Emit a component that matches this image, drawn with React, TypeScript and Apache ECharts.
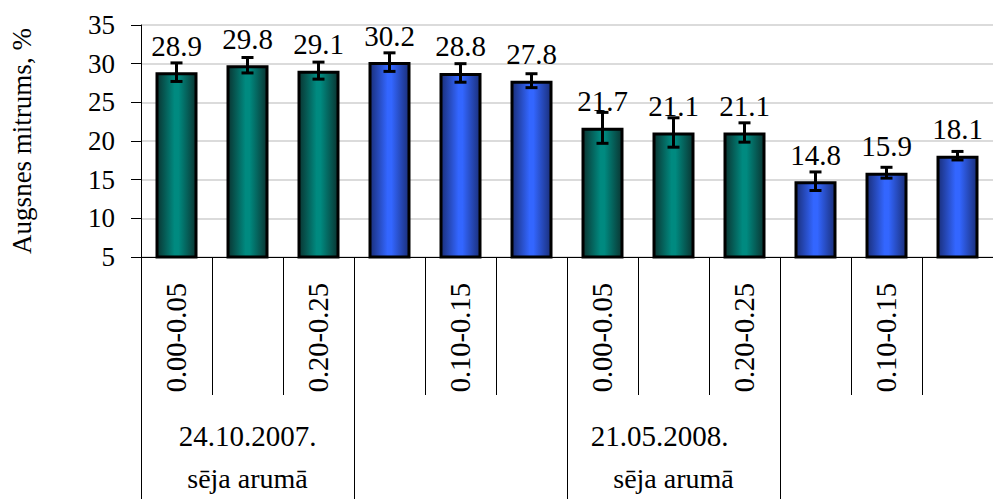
import React, { useEffect, useRef } from "react";
import * as echarts from "echarts";

const categories = [
  "0.00-0.05", "0.10-0.15", "0.20-0.25",
  "0.00-0.05", "0.10-0.15", "0.20-0.25",
  "0.00-0.05", "0.10-0.15", "0.20-0.25",
  "0.00-0.05", "0.10-0.15", "0.20-0.25",
];
const dateLabels = ["24.10.2007.", "", "21.05.2008.", ""];
const sowingLabels = ["sēja arumā", "", "sēja arumā", ""];
const moisture = [28.9, 29.8, 29.1, 30.2, 28.8, 27.8, 21.7, 21.1, 21.1, 14.8, 15.9, 18.1];
const errors = [1.2, 1.0, 1.1, 1.2, 1.2, 0.9, 2.0, 1.9, 1.25, 1.2, 0.7, 0.55];
const yTicks = { min: 5, max: 35, interval: 5 };
const yAxisTitle = "Augsnes mitrums, %";

const FONT = "Liberation Serif";

const tealGrad = {
  type: "linear", x: 0, y: 0, x2: 1, y2: 0,
  colorStops: [
    { offset: 0, color: "#0a3532" },
    { offset: 0.45, color: "#008a80" },
    { offset: 0.55, color: "#008a80" },
    { offset: 1, color: "#0a3532" },
  ],
};
const blueGrad = {
  type: "linear", x: 0, y: 0, x2: 1, y2: 0,
  colorStops: [
    { offset: 0, color: "#1a2f7a" },
    { offset: 0.45, color: "#3366ff" },
    { offset: 0.55, color: "#3366ff" },
    { offset: 1, color: "#1a2f7a" },
  ],
};

export default function App() {
  const ref = useRef<HTMLDivElement>(null);
  useEffect(() => {
    if (!ref.current) return;
    const chart = echarts.init(ref.current, undefined, { renderer: "svg" });
    const option: any = {
      animation: false,
      backgroundColor: "#ffffff",
      textStyle: { fontFamily: FONT, color: "#000" },
      grid: { left: 138, top: 25, width: 865, height: 232 },
      xAxis: [
        {
          type: "category",
          data: categories,
          position: "bottom",
          axisLine: { show: true, lineStyle: { color: "#000", width: 1 } },
          axisTick: { show: true, interval: 0, length: 138, lineStyle: { color: "#000", width: 1 } },
          axisLabel: {
            interval: 1,
            rotate: 90,
            margin: 26,
            fontFamily: FONT,
            fontSize: 28.5,
            color: "#000",
          },
        },
        {
          type: "category",
          data: dateLabels.map((d, i) =>
            i === 2 ? { value: d, textStyle: { padding: [0, 28, 0, 0] } } : d
          ),
          position: "bottom",
          axisLine: { show: false },
          axisTick: { show: true, interval: 0, length: 242, lineStyle: { color: "#000", width: 1 } },
          axisLabel: {
            interval: 0,
            margin: 164,
            fontFamily: FONT,
            fontSize: 29,
            color: "#000",
          },
        },
        {
          type: "category",
          data: sowingLabels,
          position: "bottom",
          axisLine: { show: false },
          axisTick: { show: false },
          axisLabel: {
            interval: 0,
            margin: 207,
            fontFamily: FONT,
            fontSize: 28,
            color: "#000",
          },
        },
      ],
      yAxis: {
        type: "value",
        min: yTicks.min,
        max: yTicks.max,
        interval: yTicks.interval,
        name: yAxisTitle,
        nameLocation: "middle",
        nameGap: 106,
        nameTextStyle: { fontFamily: FONT, fontSize: 27, color: "#000" },
        axisLine: { show: true, lineStyle: { color: "#000", width: 1 } },
        axisTick: { show: true, length: 10, lineStyle: { color: "#000" } },
        axisLabel: { margin: 26, fontFamily: FONT, fontSize: 27, color: "#000" },
        splitLine: { show: true, lineStyle: { color: "#cfcfcf", width: 1.5 } },
      },
      series: [
        {
          type: "bar",
          xAxisIndex: 0,
          barWidth: 42,
          data: moisture.map((v, i) => ({
            value: v,
            itemStyle: {
              color: Math.floor(i / 3) % 2 === 0 ? tealGrad : blueGrad,
              borderColor: "#000",
              borderWidth: 3,
            },
          })),
          label: {
            show: true,
            position: "top",
            distance: 12,
            fontFamily: FONT,
            fontSize: 29,
            color: "#000",
            formatter: (p: any) => Number(p.value).toFixed(1),
          },
        },
        {
          type: "custom",
          xAxisIndex: 0,
          z: 5,
          encode: { x: 0, y: [1, 2] },
          data: moisture.map((v, i) => [i, v - errors[i], v + errors[i]]),
          renderItem: (params: any, api: any) => {
            const x = api.value(0);
            const top = api.coord([x, api.value(2)]);
            const bot = api.coord([x, api.value(1)]);
            const hw = 6;
            const style = { stroke: "#000", lineWidth: 3 };
            return {
              type: "group",
              children: [
                { type: "line", shape: { x1: top[0], y1: top[1], x2: bot[0], y2: bot[1] }, style },
                { type: "line", shape: { x1: top[0] - hw, y1: top[1], x2: top[0] + hw, y2: top[1] }, style },
                { type: "line", shape: { x1: bot[0] - hw, y1: bot[1], x2: bot[0] + hw, y2: bot[1] }, style },
              ],
            };
          },
        },
      ],
    };
    chart.setOption(option);
    return () => chart.dispose();
  }, []);
  return (
    <div
      ref={ref}
      style={{ position: "fixed", left: 0, top: 0, width: 993, height: 499, background: "#fff" }}
    />
  );
}
